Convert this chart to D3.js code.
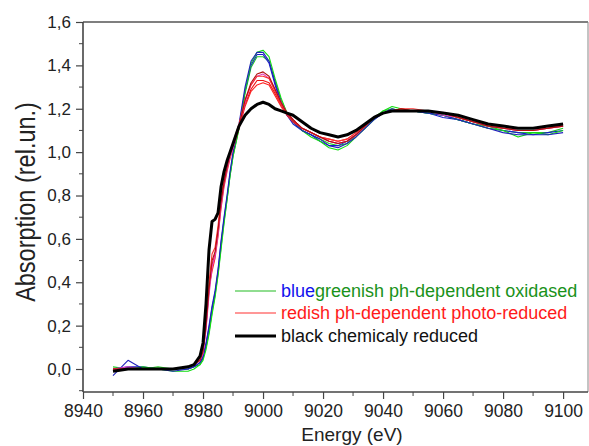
<!DOCTYPE html>
<html>
<head>
<meta charset="utf-8">
<script src="https://cdn.jsdelivr.net/npm/d3@7"></script>
<style>
  body { margin: 0; background: #fff; }
  svg { font-family: Arial, "Liberation Sans", sans-serif; }
</style>
</head>
<body>
<script>
// energy grid (eV)
var energy = [8950, 8955, 8960, 8965, 8970, 8975, 8977, 8979, 8980, 8981,
  8982, 8983, 8984, 8985, 8986, 8987, 8988, 8989, 8990, 8992,
  8994, 8996, 8998, 9000, 9002, 9004, 9006, 9008, 9010, 9013,
  9016, 9019, 9022, 9025, 9028, 9031, 9034, 9037, 9040, 9043,
  9046, 9050, 9055, 9060, 9065, 9070, 9075, 9080, 9085, 9090,
  9095, 9100];

// blue / greenish, ph-dependent oxidised
var blue1 = [-0.03, 0.04, 0.00, 0.00, -0.01, 0.00, 0.01, 0.03, 0.06, 0.12, 0.20, 0.29, 0.36, 0.46, 0.59, 0.70, 0.80, 0.91, 1.00, 1.13, 1.30, 1.42, 1.46, 1.46, 1.42, 1.32, 1.23, 1.17, 1.14, 1.10, 1.08, 1.06, 1.03, 1.02, 1.04, 1.07, 1.11, 1.15, 1.18, 1.20, 1.19, 1.19, 1.18, 1.17, 1.15, 1.13, 1.11, 1.09, 1.08, 1.08, 1.08, 1.09];
var blue2 = [0.00, 0.01, 0.01, 0.00, 0.00, 0.00, 0.01, 0.03, 0.05, 0.11, 0.19, 0.28, 0.35, 0.45, 0.58, 0.69, 0.79, 0.90, 0.99, 1.12, 1.28, 1.40, 1.45, 1.45, 1.41, 1.31, 1.22, 1.17, 1.13, 1.10, 1.08, 1.05, 1.03, 1.03, 1.05, 1.08, 1.12, 1.15, 1.18, 1.19, 1.19, 1.19, 1.18, 1.16, 1.15, 1.13, 1.11, 1.10, 1.09, 1.08, 1.09, 1.10];
var green1 = [0.00, 0.00, 0.01, 0.00, -0.01, -0.01, 0.00, 0.02, 0.04, 0.09, 0.16, 0.25, 0.33, 0.43, 0.55, 0.67, 0.78, 0.89, 0.98, 1.11, 1.28, 1.41, 1.46, 1.47, 1.44, 1.34, 1.25, 1.18, 1.14, 1.10, 1.07, 1.05, 1.02, 1.01, 1.03, 1.07, 1.11, 1.15, 1.19, 1.21, 1.20, 1.19, 1.18, 1.17, 1.15, 1.13, 1.11, 1.10, 1.07, 1.09, 1.08, 1.10];
var green2 = [0.01, 0.00, 0.00, 0.01, 0.00, 0.00, 0.01, 0.02, 0.05, 0.10, 0.17, 0.26, 0.34, 0.44, 0.56, 0.68, 0.78, 0.89, 0.98, 1.11, 1.27, 1.39, 1.44, 1.44, 1.42, 1.33, 1.24, 1.18, 1.14, 1.10, 1.08, 1.06, 1.04, 1.03, 1.04, 1.08, 1.12, 1.16, 1.19, 1.20, 1.19, 1.19, 1.18, 1.17, 1.15, 1.13, 1.12, 1.10, 1.09, 1.09, 1.09, 1.11];

// redish, ph-dependent photo-reduced
var redDark = [0.00, 0.00, 0.00, 0.00, 0.00, 0.01, 0.02, 0.04, 0.08, 0.20, 0.37, 0.50, 0.54, 0.64, 0.77, 0.86, 0.93, 0.99, 1.03, 1.12, 1.24, 1.32, 1.36, 1.37, 1.35, 1.29, 1.23, 1.18, 1.15, 1.11, 1.09, 1.07, 1.05, 1.04, 1.05, 1.08, 1.12, 1.16, 1.18, 1.19, 1.20, 1.19, 1.19, 1.18, 1.16, 1.14, 1.12, 1.11, 1.10, 1.10, 1.11, 1.12];
var redPink = [0.00, 0.01, 0.00, 0.00, 0.00, 0.01, 0.02, 0.04, 0.07, 0.18, 0.34, 0.47, 0.52, 0.62, 0.75, 0.85, 0.92, 0.98, 1.02, 1.12, 1.23, 1.31, 1.35, 1.36, 1.34, 1.29, 1.23, 1.18, 1.15, 1.11, 1.09, 1.07, 1.05, 1.04, 1.05, 1.08, 1.12, 1.16, 1.18, 1.19, 1.19, 1.19, 1.19, 1.17, 1.16, 1.14, 1.12, 1.11, 1.10, 1.10, 1.11, 1.12];
var red1 = [0.00, 0.00, 0.00, 0.00, 0.00, 0.01, 0.02, 0.05, 0.09, 0.22, 0.40, 0.53, 0.56, 0.66, 0.79, 0.87, 0.94, 1.00, 1.04, 1.13, 1.24, 1.31, 1.35, 1.35, 1.34, 1.28, 1.22, 1.18, 1.15, 1.11, 1.09, 1.07, 1.06, 1.05, 1.06, 1.09, 1.12, 1.16, 1.18, 1.19, 1.20, 1.20, 1.19, 1.18, 1.16, 1.14, 1.13, 1.11, 1.11, 1.11, 1.11, 1.13];
var red2 = [0.00, 0.00, 0.00, 0.00, 0.00, 0.01, 0.02, 0.04, 0.08, 0.19, 0.36, 0.48, 0.53, 0.63, 0.76, 0.86, 0.93, 0.99, 1.03, 1.12, 1.22, 1.29, 1.33, 1.33, 1.32, 1.27, 1.22, 1.18, 1.15, 1.11, 1.09, 1.07, 1.05, 1.04, 1.05, 1.08, 1.12, 1.16, 1.18, 1.19, 1.19, 1.19, 1.19, 1.18, 1.16, 1.14, 1.12, 1.11, 1.10, 1.10, 1.11, 1.12];
var red3 = [0.00, 0.00, 0.00, 0.00, 0.00, 0.01, 0.02, 0.05, 0.09, 0.21, 0.38, 0.45, 0.51, 0.61, 0.74, 0.84, 0.91, 0.97, 1.02, 1.11, 1.21, 1.28, 1.31, 1.32, 1.31, 1.26, 1.21, 1.17, 1.14, 1.11, 1.09, 1.07, 1.06, 1.05, 1.06, 1.09, 1.12, 1.16, 1.18, 1.19, 1.20, 1.19, 1.19, 1.18, 1.16, 1.14, 1.13, 1.12, 1.11, 1.11, 1.12, 1.12];

// black, chemically reduced
var black = [-0.01, 0.00, 0.00, 0.00, 0.00, 0.01, 0.02, 0.06, 0.12, 0.30, 0.55, 0.68, 0.69, 0.72, 0.84, 0.91, 0.96, 1.00, 1.04, 1.12, 1.17, 1.20, 1.22, 1.23, 1.22, 1.20, 1.19, 1.18, 1.17, 1.14, 1.11, 1.09, 1.08, 1.07, 1.08, 1.10, 1.13, 1.16, 1.18, 1.19, 1.19, 1.19, 1.19, 1.18, 1.17, 1.15, 1.13, 1.12, 1.11, 1.11, 1.12, 1.13];

var xTicks = [8940, 8960, 8980, 9000, 9020, 9040, 9060, 9080, 9100];
var yTicks = [0, 0.2, 0.4, 0.6, 0.8, 1.0, 1.2, 1.4, 1.6];

var series = [
  { v: green2, c: "#22cc22", w: 1.1 },
  { v: blue2, c: "#1a1acc", w: 1.1 },
  { v: green1, c: "#11dd11", w: 1.1 },
  { v: blue1, c: "#2020bb", w: 1.1 },
  { v: red3, c: "#ff2020", w: 1.1 },
  { v: red2, c: "#ee1010", w: 1.1 },
  { v: redPink, c: "#e040c0", w: 1.1 },
  { v: red1, c: "#ff3030", w: 1.1 },
  { v: redDark, c: "#b01010", w: 1.1 },
  { v: black, c: "#000000", w: 3 }
];

var W = 589, H = 446;
var m = [22, 1, 54, 83]; // top right bottom left
var w = W - m[1] - m[3], h = H - m[0] - m[2];

var x = d3.scaleLinear().domain([8940, 9108.3]).range([0, w]);
var y = d3.scaleLinear().domain([-0.106, 1.6]).range([h, 0]);

var svg = d3.select("body").append("svg")
  .attr("width", W).attr("height", H);
var g = svg.append("g")
  .attr("transform", "translate(" + m[3] + "," + m[0] + ")");

// frame top / right
g.append("line").attr("x1", 0).attr("x2", w).attr("y1", 0).attr("y2", 0)
  .attr("stroke", "#555").attr("stroke-width", 1.3);
g.append("line").attr("x1", w).attr("x2", w).attr("y1", 0).attr("y2", h)
  .attr("stroke", "#888").attr("stroke-width", 1);

var line = d3.line()
  .x(function (d) { return x(d[0]); })
  .y(function (d) { return y(d[1]); });

g.append("g").selectAll("path")
  .data(series)
  .enter().append("path")
  .attr("d", function (s) { return line(energy.map(function (e, i) { return [e, s.v[i]]; })); })
  .attr("fill", "none")
  .attr("stroke", function (s) { return s.c; })
  .attr("stroke-width", function (s) { return s.w; })
  .attr("stroke-linejoin", "round");

// axes
var fmt = function (d) { return d3.format(".1f")(d).replace(".", ","); };
var xMinor = d3.range(8950, 9108, 20);
var yMinor = [-0.1, 0.1, 0.3, 0.5, 0.7, 0.9, 1.1, 1.3, 1.5];

var xAxis = g.append("g").attr("transform", "translate(0," + h + ")")
  .call(d3.axisBottom(x).tickValues(xTicks).tickSize(7).tickPadding(6).tickFormat(d3.format("d")));
xAxis.append("g").selectAll("line").data(xMinor).enter().append("line")
  .attr("x1", x).attr("x2", x).attr("y1", 0).attr("y2", 4).attr("stroke", "#444");

var yAxis = g.append("g")
  .call(d3.axisLeft(y).tickValues(yTicks).tickSize(7).tickPadding(5).tickFormat(fmt));
yAxis.append("g").selectAll("line").data(yMinor).enter().append("line")
  .attr("y1", y).attr("y2", y).attr("x1", 0).attr("x2", -4).attr("stroke", "#444");

[xAxis, yAxis].forEach(function (a) {
  a.select(".domain").attr("stroke", "#444").attr("stroke-width", 1.6);
  a.selectAll(".tick line").attr("stroke", "#444").attr("stroke-width", 1.2);
  a.selectAll("text").attr("font-size", 17).attr("fill", "#222")
    .attr("font-family", "Arial, 'Liberation Sans', sans-serif");
});
xAxis.selectAll("text").attr("font-size", 17.5);
xAxis.select(".domain").attr("d", "M0,0H" + w);
yAxis.select(".domain").attr("d", "M0," + h + "V0");

// axis titles
svg.append("text")
  .attr("x", 352).attr("y", 441)
  .attr("text-anchor", "middle").attr("font-size", 19).attr("fill", "#222")
  .text("Energy (eV)");
svg.append("text")
  .attr("transform", "translate(35,202) scale(1.15,1) rotate(-90)")
  .attr("text-anchor", "middle").attr("font-size", 23.5).attr("fill", "#222")
  .text("Absorption (rel.un.)");

// legend
var legend = [
  { y: 291, c: "#22bb22", w: 1.2, parts: [["blue", "#1111ee"], ["greenish ph-dependent oxidased", "#1a921a"]] },
  { y: 313, c: "#ff3030", w: 1.2, parts: [["redish ph-dependent photo-reduced", "#ff1a1a"]] },
  { y: 336, c: "#000", w: 3, parts: [["black chemicaly reduced", "#111"]] }
];
var lg = svg.append("g");
legend.forEach(function (d) {
  lg.append("line").attr("x1", 235).attr("x2", 276)
    .attr("y1", d.y).attr("y2", d.y)
    .attr("stroke", d.c).attr("stroke-width", d.w);
  var t = lg.append("text").attr("x", 281).attr("y", d.y + 6).attr("font-size", 18);
  d.parts.forEach(function (p) {
    t.append("tspan").attr("fill", p[1]).text(p[0]);
  });
});
</script>
</body>
</html>
